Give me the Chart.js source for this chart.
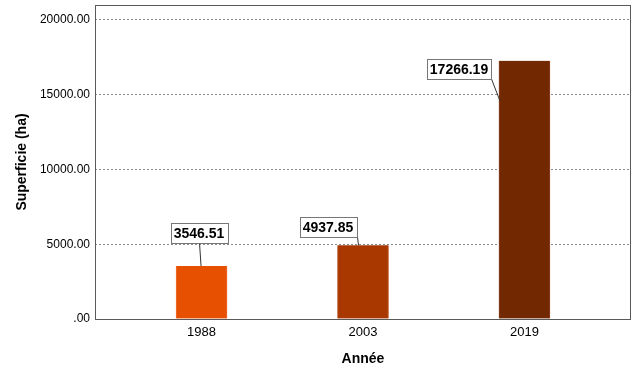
<!DOCTYPE html>
<html>
<head>
<meta charset="utf-8">
<script src="https://cdn.jsdelivr.net/npm/chart.js@4/dist/chart.umd.min.js"></script>
<style>
  html, body { margin: 0; padding: 0; background: #fff; }
  #wrap { width: 640px; height: 378px; }
</style>
</head>
<body>
<div id="wrap"><canvas id="areaChart" width="640" height="378"></canvas></div>
<script>
const years = ['1988', '2003', '2019'];
const surfaces = [3546.51, 4937.85, 17266.19];
const barColors = ['#E65000', '#A83800', '#722800'];
const barEdges = ['#F07030', '#BC5020', '#8A4020'];
const yTicks = [0, 5000, 10000, 15000, 20000];

// where each value box sits, relative to the top of its bar
const labelPlacement = [
    {dx: -3, dy: -33, sx: 0, sy: 10, ex: -1, ey: 0},
    {dx: -35, dy: -18, sx: 29, sy: 10, ex: -5, ey: 0},
    {dx: -65, dy: 8, sx: 32, sy: 10, ex: -25, ey: 40},
];

const fmt = v => v === 0 ? '.00' : v.toFixed(2);

const frame = {
    id: 'frame',
    afterDraw(chart) {
        const {ctx, chartArea: a} = chart;
        ctx.save();
        ctx.strokeStyle = '#5a5a5a';
        ctx.lineWidth = 1;
        ctx.strokeRect(a.left + 0.5, a.top + 0.5, a.right - a.left - 1, a.bottom - a.top);
        ctx.restore();
    }
};

const valueBoxes = {
    id: 'valueBoxes',
    afterDraw(chart) {
        const {ctx} = chart;
        const meta = chart.getDatasetMeta(0);
        ctx.save();
        ctx.font = 'bold 14px "Liberation Sans", Arial, sans-serif';
        ctx.textAlign = 'center';
        ctx.textBaseline = 'middle';
        meta.data.forEach((bar, i) => {
            const p = labelPlacement[i];
            const text = fmt(surfaces[i]);
            const w = ctx.measureText(text).width + 6;
            const h = 20;
            const cx = Math.round(bar.x + p.dx);
            const cy = Math.round(bar.y + p.dy);
            ctx.strokeStyle = '#333';
            ctx.lineWidth = 1;
            ctx.beginPath();
            ctx.moveTo(cx + p.sx + 0.5, cy + p.sy);
            ctx.lineTo(bar.x + p.ex + 0.5, bar.y + p.ey);
            ctx.stroke();
            ctx.fillStyle = '#fff';
            ctx.fillRect(cx - w / 2, cy - h / 2, w, h);
            ctx.strokeStyle = '#777';
            ctx.strokeRect(Math.round(cx - w / 2) + 0.5, cy - h / 2 + 0.5, Math.round(w), h);
            ctx.fillStyle = '#000';
            ctx.fillText(text, cx, cy + 1);
        });
        ctx.restore();
    }
};

new Chart(document.getElementById('areaChart'), {
    type: 'bar',
    data: {
        datasets: [{
            data: surfaces.map((v, i) => ({x: i, y: v})),
            backgroundColor: barColors,
            borderColor: barEdges,
            borderWidth: {left: 1, right: 1, top: 0, bottom: 0},
            borderSkipped: false,
            barThickness: 51
        }]
    },
    options: {
        responsive: false,
        animation: false,
        layout: {padding: {top: 5, right: 9, left: 0, bottom: 0}},
        plugins: {legend: {display: false}, tooltip: {enabled: false}},
        scales: {
            x: {
                type: 'linear',
                offset: false,
                min: -0.66,
                max: 2.66,
                afterBuildTicks: s => { s.ticks = years.map((_, i) => ({value: i})); },
                afterFit: s => { s.height = 59; s.paddingLeft = 0; s.paddingRight = 0; },
                grid: {display: false, drawTicks: false},
                border: {display: false},
                ticks: {
                    callback: v => years[v],
                    color: '#000',
                    padding: 6,
                    font: {family: '"Liberation Sans", Arial', size: 13}
                },
                title: {
                    display: true,
                    text: 'Année',
                    color: '#000',
                    padding: {top: 0, bottom: 10},
                    font: {family: '"Liberation Sans", Arial', size: 14, weight: 'bold'}
                }
            },
            y: {
                min: 0,
                max: 21000,
                afterBuildTicks: s => { s.ticks = yTicks.map(v => ({value: v})); },
                afterFit: s => { s.width = 95; s.paddingTop = 0; s.paddingBottom = 0; },
                grid: {
                    drawTicks: false,
                    color: c => c.tick.value === 0 ? 'rgba(0,0,0,0)' : '#8c8c8c',
                    lineWidth: 1
                },
                border: {display: false, dash: [2, 2]},
                ticks: {
                    callback: v => fmt(v),
                    color: '#000',
                    padding: 5,
                    font: {family: '"Liberation Sans", Arial', size: 12}
                },
                title: {
                    display: true,
                    text: 'Superficie (ha)',
                    color: '#000',
                    padding: {top: 14, bottom: 0},
                    font: {family: '"Liberation Sans", Arial', size: 14, weight: 'bold'}
                }
            }
        }
    },
    plugins: [frame, valueBoxes]
});
</script>
</body>
</html>
